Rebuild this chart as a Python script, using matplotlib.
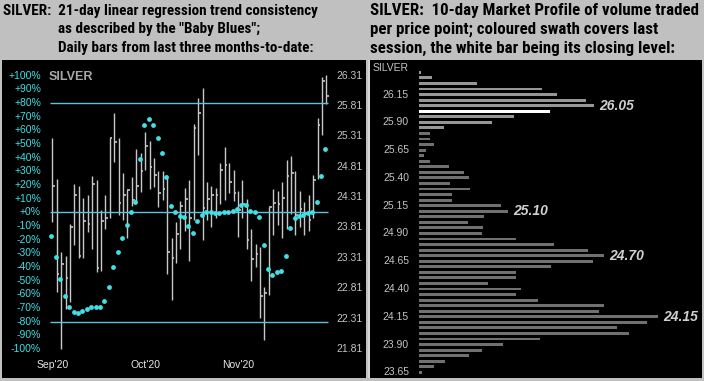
import numpy as np
import matplotlib
matplotlib.use("Agg")
import matplotlib.pyplot as plt

# ---- left panel: daily bars (price) + trend consistency dots (%)
highs = [25.28, 24.61, 23.41, 23.34, 23.86, 24.53, 24.50, 24.30, 24.34, 24.66,
         24.60, 24.09, 24.35, 25.28, 25.69, 25.28, 24.71, 24.42, 24.64, 25.10,
         25.04, 25.39, 25.23, 24.95, 24.74, 24.74, 24.67, 23.64, 23.90, 24.24,
         24.46, 24.60, 25.51, 25.94, 26.11, 24.56, 24.49, 24.46, 24.88, 25.14,
         24.87, 24.75, 24.41, 24.59, 24.28, 23.79, 23.53, 23.49, 22.83, 24.15,
         24.45, 24.41, 24.56, 24.92, 24.98, 24.74, 24.41, 24.23, 24.34, 24.68,
         25.61, 26.29, 26.32]
lows = [23.90, 22.75, 21.81, 22.47, 22.59, 23.52, 23.30, 23.30, 23.74, 23.46,
        23.08, 23.09, 23.79, 23.97, 24.89, 24.01, 23.93, 23.64, 24.16, 24.23,
        24.39, 24.76, 24.45, 24.48, 24.14, 24.26, 23.05, 22.62, 23.23, 23.46,
        23.75, 23.26, 23.93, 25.00, 23.60, 23.94, 23.81, 23.97, 24.20, 24.26,
        24.37, 24.24, 23.66, 23.96, 23.46, 22.93, 23.16, 22.32, 21.95, 22.69,
        23.68, 23.85, 23.63, 23.79, 24.04, 23.68, 23.82, 23.68, 23.75, 23.96,
        24.61, 25.33, 25.85]
closes = [24.50, 23.04, 23.21, 22.98, 23.82, 24.34, 23.34, 23.91, 23.86, 24.52,
          23.14, 23.92, 23.96, 25.28, 25.21, 24.22, 24.35, 24.42, 24.27, 24.50,
          24.74, 25.15, 24.81, 24.68, 24.37, 24.45, 23.41, 23.31, 23.71, 24.16,
          24.28, 23.96, 25.45, 25.69, 24.13, 24.28, 24.35, 24.34, 24.75, 24.84,
          24.56, 24.38, 24.09, 24.20, 23.61, 23.29, 23.38, 22.68, 22.73, 24.14,
          24.21, 24.19, 24.30, 24.65, 24.70, 24.01, 24.12, 24.04, 23.94, 24.60,
          25.49, 26.23, 25.98]
baby_blues = [-17, -33, -49, -61, -69, -73, -74, -72, -71, -69,
              -69, -69, -65, -55, -40, -29, -19, -9, 0, 7.5,
              39, 64, 68.5, 64, 54.5, 43.5, 26, 4.5, 0, -2.5,
              -3.5, -10, -15.5, -6, -2, 0, 0, -0.5, -0.5, 0,
              0, 1, 2.5, 5.6, 5.6, 1, 0, -3.8, -23.8, -41.3,
              -45.5, -43.7, -43, -31.7, -11.2, -3.9, -2.7, -1.7, -0.3, 0,
              7.5, 26.6, 46]
month_labels = ["Sep'20", "Oct'20", "Nov'20"]
month_pos = [0, 21, 42]
pct_ticks = list(range(100, -101, -10))
price_ticks = [26.31, 25.81, 25.31, 24.81, 24.31, 23.81, 23.31, 22.81, 22.31, 21.81]

# ---- right panel: 10-day market profile
profile_prices = [26.35, 26.30, 26.25, 26.20, 26.15, 26.10, 26.05, 26.00, 25.95, 25.90,
                  25.85, 25.80, 25.75, 25.70, 25.65, 25.60, 25.55, 25.50, 25.45, 25.40,
                  25.35, 25.30, 25.25, 25.20, 25.15, 25.10, 25.05, 25.00, 24.95, 24.90,
                  24.85, 24.80, 24.75, 24.70, 24.65, 24.60, 24.55, 24.50, 24.45, 24.40,
                  24.35, 24.30, 24.25, 24.20, 24.15, 24.10, 24.05, 24.00, 23.95, 23.90,
                  23.85, 23.80, 23.75, 23.70, 23.65]
profile_volume = [2, 13, 58, 123, 138, 167, 175, 131, 95, 73,
                  25, 11, 11, 15, 7, 5, 11, 30, 45, 50,
                  31, 51, 33, 33, 82, 89, 65, 49, 64, 63,
                  97, 135, 169, 185, 174, 132, 97, 97, 69, 102,
                  97, 119, 185, 180, 239, 228, 198, 210, 121, 84,
                  63, 50, 26, 15, 3]
profile_ticks = [26.15, 25.90, 25.65, 25.40, 25.15, 24.90, 24.65, 24.40, 24.15, 23.90, 23.65]
last_close_level = 26.00
last_low, last_high = 25.85, 26.35
callouts = [26.05, 25.10, 24.70, 24.15]

CYAN = "#3fe0e6"
LINE = "#5cc3dc"
BARC = "#c8c8c8"
TXT = "#c4c4c4"

W, H = 704, 381
fig = plt.figure(figsize=(W / 100, H / 100), dpi=100, facecolor="#c0c0c0")

narrow = ["Roboto Condensed", "Open Sans Condensed", "Liberation Sans Narrow",
          "Liberation Sans", "DejaVu Sans"]
hdr = dict(fontweight="bold", color="black", family=narrow, va="center")
fig.text(3 / W, 1 - 11 / H, "SILVER:  21-day linear regression trend consistency",
         fontsize=10.9, **hdr)
fig.text(58 / W, 1 - 29.5 / H, 'as described by the "Baby Blues";', fontsize=10.9, **hdr)
fig.text(58 / W, 1 - 48 / H, "Daily bars from last three months-to-date:", fontsize=10.9, **hdr)
fig.text(370 / W, 1 - 11 / H, "SILVER:  10-day Market Profile of volume traded",
         fontsize=12.2, **hdr)
fig.text(370 / W, 1 - 29.5 / H, "per price point; coloured swath covers last", fontsize=12.2, **hdr)
fig.text(370 / W, 1 - 48 / H, "session, the white bar being its closing level:",
         fontsize=12.2, **hdr)

# ---------------- left panel
ax = fig.add_axes([2 / W, 3 / H, 364 / W, 318 / H], facecolor="black")
ax.set_xlim(-11.38, 70.97)
ax.set_ylim(21.33, 26.569)
ax2 = ax.twinx()
ax2.set_ylim(-121.2, 111.4)
for a in (ax, ax2):
    a.set_xticks([])
    a.set_yticks([])
    for s in a.spines.values():
        s.set_visible(False)

n = len(closes)
idx = np.arange(n)
ax2.hlines([80, 0, -80], -0.5, 62.4, color=LINE, lw=1.0, zorder=1)
ax.vlines(idx, lows, highs, color=BARC, lw=1.0, zorder=2)
ax.hlines(closes, idx, idx + 0.6, color=BARC, lw=1.2, zorder=2)
ax2.scatter(idx - 0.2, baby_blues, s=12, color=CYAN, zorder=3, linewidths=0)

lab = dict(fontsize=7.5, family=["Liberation Sans", "DejaVu Sans"])
ytr = ax2.get_yaxis_transform()
for p in pct_ticks:
    ax2.text(0.107, p, f"{p:+d}%", transform=ytr, ha="right", va="center", color=CYAN, **lab)
ytr1 = ax.get_yaxis_transform()
for p in price_ticks:
    ax.text(0.918, p, f"{p:.2f}", transform=ytr1, ha="left", va="center", color=TXT, **lab)
xtr = ax.get_xaxis_transform()
for m, xp in zip(month_labels, month_pos):
    ax.text(xp, 0.041, m, transform=xtr, ha="center", va="center", color="#e6e6e6", **lab)
ax.text(0.127, 0.948, "SILVER", transform=ax.transAxes, ha="left", va="center",
        color="#a8a8a8", fontsize=9, fontweight="bold",
        family=["Liberation Sans", "DejaVu Sans"])

# ---------------- right panel
bx = fig.add_axes([368 / W, 3 / H, 334 / W, 318 / H], facecolor="black")
bx.set_xlim(0, 334)
bx.set_ylim(23.599, 26.461)
bx.set_xticks([])
bx.set_yticks([])
for s in bx.spines.values():
    s.set_visible(False)
bx.axvline(1.2, color="white", lw=1.2)

cols = []
for p in profile_prices:
    if abs(p - last_close_level) < 1e-6:
        cols.append("white")
    elif last_low - 1e-6 <= p <= last_high + 1e-6:
        cols.append("#969696")
    else:
        cols.append("#707070")
hts = [0.03 if c == "white" else 0.026 for c in cols]
bx.barh(profile_prices, profile_volume, left=51, height=hts, color=cols, zorder=2)

ytr2 = bx.get_yaxis_transform()
for p in profile_ticks:
    bx.text(41 / 334, p, f"{p:.2f}", transform=ytr2, ha="right", va="center", color=TXT, **lab)
bx.text(5 / 334, 0.975, "SILVER", transform=bx.transAxes, ha="left", va="center",
        color=TXT, **lab)
vol_at = dict(zip(profile_prices, profile_volume))
for c in callouts:
    bx.text(51 + vol_at[c] + 5, c, f"{c:.2f}", ha="left", va="center", color="#d0d0d0",
            fontsize=10, fontweight="bold", fontstyle="italic",
            family=["Liberation Sans", "DejaVu Sans"])

fig.savefig("out.png", dpi=100, facecolor=fig.get_facecolor())
